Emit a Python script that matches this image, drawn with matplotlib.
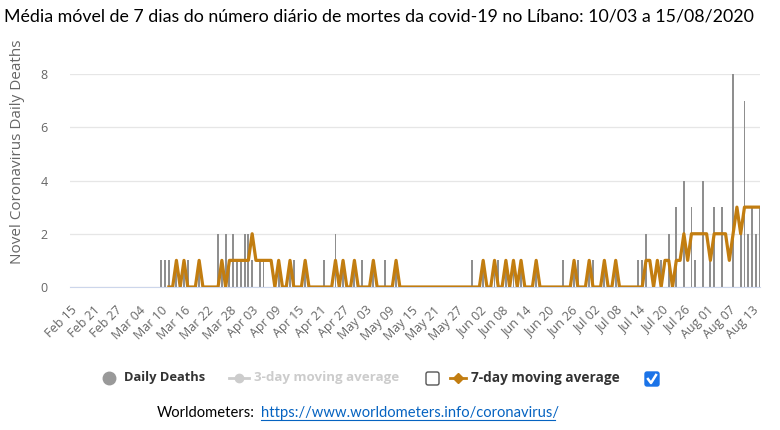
import numpy as np
import pandas as pd
import matplotlib
matplotlib.use('Agg')
import matplotlib.pyplot as plt
from matplotlib.patches import FancyBboxPatch

plt.rcParams['font.family'] = ['Open Sans', 'DejaVu Sans']

# values; days not listed are 0
death_dates = ['2020-03-10', '2020-03-11', '2020-03-12', '2020-03-14', '2020-03-16', '2020-03-17',
               '2020-03-20', '2020-03-25', '2020-03-26', '2020-03-27', '2020-03-28', '2020-03-29',
               '2020-03-30', '2020-03-31', '2020-04-01', '2020-04-02', '2020-04-03', '2020-04-05',
               '2020-04-06', '2020-04-10', '2020-04-13', '2020-04-14', '2020-04-17', '2020-04-22',
               '2020-04-25', '2020-04-27', '2020-04-30', '2020-05-02', '2020-05-05', '2020-05-08',
               '2020-05-11', '2020-05-31', '2020-06-03', '2020-06-06', '2020-06-07', '2020-06-09',
               '2020-06-11', '2020-06-13', '2020-06-17', '2020-06-24', '2020-06-27', '2020-06-28',
               '2020-07-01', '2020-07-02', '2020-07-05', '2020-07-08', '2020-07-14', '2020-07-15',
               '2020-07-16', '2020-07-20', '2020-07-22', '2020-07-24', '2020-07-26', '2020-07-28',
               '2020-07-29', '2020-07-31', '2020-08-02', '2020-08-03', '2020-08-05', '2020-08-08',
               '2020-08-10', '2020-08-11', '2020-08-12', '2020-08-13', '2020-08-14', '2020-08-15']
death_values = [1, 1, 1, 1, 1, 1,
                1, 2, 1, 2, 1, 2,
                1, 1, 2, 2, 1, 1,
                1, 1, 1, 1, 1, 1,
                2, 1, 1, 1, 1, 1,
                1, 1, 1, 1, 1, 1,
                1, 1, 1, 1, 1, 1,
                1, 1, 1, 1, 1, 1,
                2, 1, 2, 3, 4, 3,
                1, 4, 1, 3, 3, 8,
                2, 7, 2, 3, 2, 3]

ma_start = '2020-03-12'
ma_dates = ['2020-03-14', '2020-03-16', '2020-03-20', '2020-03-26', '2020-03-28', '2020-03-29',
            '2020-03-30', '2020-03-31', '2020-04-01', '2020-04-02', '2020-04-03', '2020-04-04',
            '2020-04-05', '2020-04-06', '2020-04-07', '2020-04-08', '2020-04-10', '2020-04-13',
            '2020-04-17', '2020-04-25', '2020-04-27', '2020-04-30', '2020-05-05', '2020-05-11',
            '2020-06-03', '2020-06-06', '2020-06-09', '2020-06-11', '2020-06-13', '2020-06-17',
            '2020-06-27', '2020-07-01', '2020-07-05', '2020-07-08', '2020-07-16', '2020-07-17',
            '2020-07-19', '2020-07-21', '2020-07-22', '2020-07-24', '2020-07-25', '2020-07-26',
            '2020-07-27', '2020-07-28', '2020-07-29', '2020-07-30', '2020-07-31', '2020-08-01',
            '2020-08-02', '2020-08-03', '2020-08-04', '2020-08-05', '2020-08-06', '2020-08-07',
            '2020-08-08', '2020-08-09', '2020-08-10', '2020-08-11', '2020-08-12', '2020-08-13',
            '2020-08-14', '2020-08-15']
ma_values = [1, 1, 1, 1, 1, 1,
             1, 1, 1, 1, 2, 1,
             1, 1, 1, 1, 1, 1,
             1, 1, 1, 1, 1, 1,
             1, 1, 1, 1, 1, 1,
             1, 1, 1, 1, 1, 1,
             1, 1, 1, 1, 1, 2,
             1, 2, 2, 2, 2, 2,
             1, 2, 2, 2, 2, 1,
             2, 3, 2, 3, 3, 3,
             3, 3]

title = 'Média móvel de 7 dias do número diário de mortes da covid-19 no Líbano: 10/03 a 15/08/2020'

days = pd.date_range('2020-02-15', '2020-08-15', freq='D')
deaths = pd.Series(death_values, index=pd.to_datetime(death_dates)).reindex(days, fill_value=0)
ma7 = pd.Series(ma_values, index=pd.to_datetime(ma_dates)).reindex(days, fill_value=0).astype(float)
ma7[ma7.index < ma_start] = np.nan
x = np.arange(len(days))

fig = plt.figure(figsize=(7.8, 4.3), dpi=100)
ax = fig.add_axes([70 / 780, 1 - 287 / 430, 690 / 780, 213 / 430])

ax.bar(x, deaths.values, width=0.5, color='#8f8f8f', zorder=2)
ax.plot(x, ma7.values, color='#c27d10', lw=2.3, zorder=3, solid_joinstyle='round')

ax.set_xlim(-0.1, len(days) - 0.9)
ax.set_ylim(0, 8)
ax.set_yticks([0, 2, 4, 6, 8])
ax.grid(axis='y', color='#e6e6e6', lw=0.9, zorder=0)
ax.set_axisbelow(True)
for s in ['top', 'right', 'left']:
    ax.spines[s].set_visible(False)
ax.spines['bottom'].set_color('#ccd6eb')
ax.set_xticks(x[::6])
ax.set_xticklabels([d.strftime('%b %d') for d in days[::6]], rotation=45,
                   ha='right', rotation_mode='anchor')
ax.tick_params(axis='x', length=0, pad=12, labelsize=9, labelcolor='#666666')
ax.tick_params(axis='y', length=0, pad=16, labelsize=9, labelcolor='#666666')

# overlay in pixel coords for title, labels and legend
ov = fig.add_axes([0, 0, 1, 1])
ov.patch.set_alpha(0)
ov.axis('off')
ov.set_xlim(0, 780)
ov.set_ylim(430, 0)

ov.text(4, 17, title, fontsize=12.8, family=['Lato', 'DejaVu Sans'], va='center', ha='left', color='black')
ov.text(18, 152, 'Novel Coronavirus Daily Deaths', rotation=90, fontsize=11,
        color='#666666', va='center', ha='center')

# legend
ov.plot([109], [378], 'o', ms=9, color='#999999')
ov.text(124, 378, 'Daily Deaths', fontsize=9.3, fontweight='bold', color='#333333', va='center')
ov.plot([229, 249], [378, 378], color='#cccccc', lw=2)
ov.plot([239], [378], 'o', ms=6, color='#cccccc')
ov.text(254, 378, '3-day moving average', fontsize=9.6, fontweight='bold', color='#cccccc', va='center')
ov.add_patch(FancyBboxPatch((426, 372), 13, 13, boxstyle='round,pad=0,rounding_size=2',
                            fc='white', ec='#555555', lw=1))
ov.plot([450, 466], [378, 378], color='#c27d10', lw=2)
ov.plot([458], [378], 'D', ms=5, color='#c27d10')
ov.text(471, 378, '7-day moving average', fontsize=9.8, fontweight='bold', color='#333333', va='center')
ov.add_patch(FancyBboxPatch((645, 372), 14, 14, boxstyle='round,pad=0,rounding_size=2',
                            fc='#1a73e8', ec='#1a73e8', lw=1))
ov.plot([648, 651, 656], [379, 383, 375], color='white', lw=1.8)

ov.text(157, 413, 'Worldometers:', fontsize=10.6, family=['Lato', 'DejaVu Sans'], va='center', color='black')
ov.text(261, 413, 'https://www.worldometers.info/coronavirus/', fontsize=10.6,
        family=['Lato', 'DejaVu Sans'], va='center', color='#0563c1')
ov.plot([261, 555], [420, 420], color='#0563c1', lw=0.8)

fig.savefig('out.png', dpi=100)
